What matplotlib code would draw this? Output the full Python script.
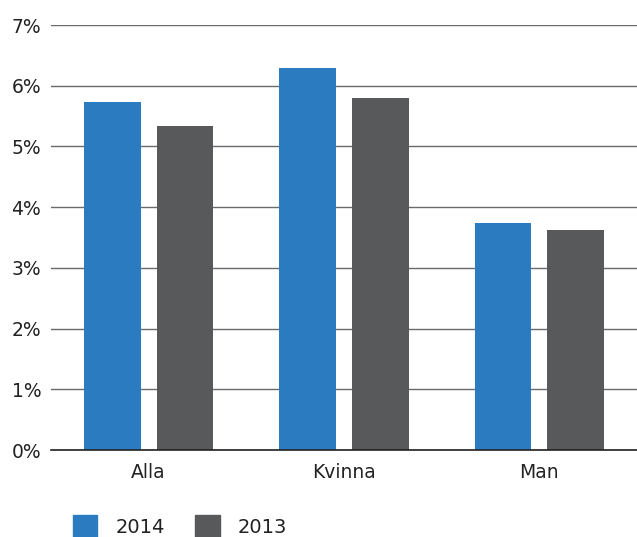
import numpy as np
import matplotlib.pyplot as plt
from matplotlib.patches import Patch

# Data
categories = ['Alla', 'Kvinna', 'Man']
values_2014 = [5.73, 6.29, 3.74]
values_2013 = [5.34, 5.80, 3.62]
yticks = [0, 1, 2, 3, 4, 5, 6, 7]

blue = '#2a7bc0'
grey = '#58595b'

fig = plt.figure(figsize=(6.37, 5.37), dpi=100)
ax = fig.add_axes([51/637, 1 - 450/537, 1 - 51/637, 425/537])

x = np.arange(len(categories))
w = 0.29
off = 0.186
ax.bar(x - off, values_2014, w, color=blue, zorder=3)
ax.bar(x + off, values_2013, w, color=grey, zorder=3)

ax.set_xlim(-0.5, 2.5)
ax.set_ylim(0, 7)
ax.set_yticks(yticks)
ax.set_yticklabels([f'{t}%' for t in yticks])
ax.set_xticks(x)
ax.set_xticklabels(categories)
ax.tick_params(axis='both', length=0, labelsize=13.5, colors='#222222')
ax.tick_params(axis='y', pad=7)
ax.tick_params(axis='x', pad=9)

ax.grid(axis='y', color='#6a6a6a', linewidth=1, zorder=0)
for s in ['top', 'right', 'left']:
    ax.spines[s].set_visible(False)
ax.spines['bottom'].set_color('#222222')
ax.spines['bottom'].set_linewidth(1.2)
ax.spines['bottom'].set_zorder(4)

handles = [Patch(color=blue, label='2014'), Patch(color=grey, label='2013')]
fig.legend(handles=handles, loc='center left', bbox_to_anchor=(73/637, 11/537),
           ncol=2, frameon=False, fontsize=14, handlelength=1.25, handleheight=1.3,
           handletextpad=0.95, columnspacing=1.55, borderpad=0, borderaxespad=0,
           labelcolor='#222222')

fig.savefig('out.png', dpi=100)
